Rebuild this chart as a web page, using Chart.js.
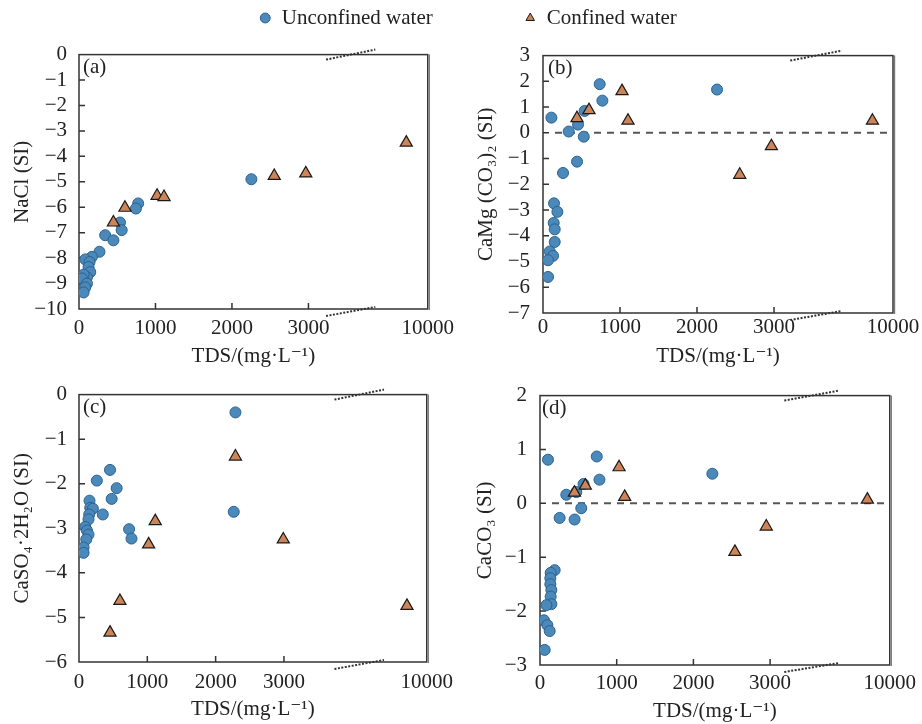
<!DOCTYPE html>
<html><head><meta charset="utf-8">
<script src="https://cdn.jsdelivr.net/npm/chart.js@4.4.0/dist/chart.umd.min.js"></script>
<style>
html,body{margin:0;padding:0;background:#fff;}
body{width:922px;height:724px;position:relative;overflow:hidden;}
canvas{position:absolute;}
</style></head><body>
<canvas id="leg" width="922" height="60" style="left:0;top:0"></canvas>
<canvas id="ca" width="461" height="340" style="left:0;top:30px"></canvas>
<canvas id="cb" width="461" height="340" style="left:461px;top:30px"></canvas>
<canvas id="cc" width="461" height="354" style="left:0;top:370px"></canvas>
<canvas id="cd" width="461" height="354" style="left:461px;top:370px"></canvas>
<script>
// ---------- data (TDS in mg/L, SI values) ----------
const legendLabels = ['Unconfined water', 'Confined water'];
const xTickLabels = ['0', '1000', '2000', '3000', '10000'];
const xTickValues = [0, 1000, 2000, 3000, 10000];

// (a) NaCl
const aUx = [774, 744, 536, 558, 342, 450, 268, 169, 82, 138, 125, 147, 104, 60, 39, 104, 82, 60, 2254];
const aUy = [-5.85, -6.05, -6.6, -6.9, -7.1, -7.3, -7.75, -7.95, -8.05, -8.15, -8.35, -8.55, -8.75, -8.65, -8.8, -9.0, -9.15, -9.35, -4.9];
const aCx = [450, 601, 1021, 1112, 2553, 2965, 8740];
const aCy = [-6.6, -6.02, -5.55, -5.6, -4.77, -4.67, -3.46];

// (b) CaMg(CO3)2
const bUx = [736, 771, 109, 541, 455, 334, 529, 442, 260, 143, 187, 139, 152, 152, 87, 130, 65, 65, 2260];
const bUy = [1.89, 1.25, 0.59, 0.85, 0.32, 0.05, -0.15, -1.12, -1.56, -2.74, -3.07, -3.5, -3.75, -4.24, -4.61, -4.78, -4.95, -5.6, 1.68];
const bCx = [441, 597, 1026, 1104, 2555, 2966, 8790];
const bCy = [0.57, 0.88, 1.62, 0.47, -1.63, -0.52, 0.47];

// (c) CaSO4·2H2O
const cUx = [454, 261, 551, 478, 154, 164, 203, 348, 149, 139, 91, 116, 139, 106, 733, 768, 67, 67, 2290, 2265];
const cUy = [-1.69, -1.93, -2.1, -2.34, -2.38, -2.54, -2.56, -2.69, -2.69, -2.8, -2.97, -3.05, -3.14, -3.25, -3.02, -3.23, -3.43, -3.55, -0.4, -2.63];
const cCx = [454, 599, 1019, 1116, 2290, 2990, 9030];
const cCy = [-5.34, -4.63, -3.36, -2.84, -1.39, -3.25, -4.74];

// (d) CaCO3
const dUx = [104, 740, 775, 568, 343, 473, 538, 256, 451, 191, 139, 135, 135, 148, 139, 148, 83, 52, 96, 126, 61, 2247];
const dUy = [0.81, 0.87, 0.44, 0.36, 0.16, 0.21, -0.09, -0.27, -0.3, -1.24, -1.29, -1.39, -1.5, -1.61, -1.73, -1.87, -1.89, -2.17, -2.26, -2.37, -2.72, 0.55];
const dCx = [449, 591, 1031, 1104, 2541, 2950, 8690];
const dCy = [0.2, 0.33, 0.67, 0.12, -0.9, -0.43, 0.07];

// ---------- styling ----------
const SERIF = "'Liberation Serif','Times New Roman','DejaVu Serif',serif";
const BLUE = '#4a89ba', BLUE_EDGE = '#2b628f';
const ORANGE = '#cd8458', ORANGE_EDGE = '#1a1a1a';
const TXT = '#222';
const BREAK_START = 3000;

function toAxis(v, xMax) {
  return v <= BREAK_START ? v : BREAK_START + (v - BREAK_START) * (xMax - BREAK_START) / (10000 - BREAK_START);
}
function fmtMinus(v) { return v < 0 ? '\u2212' + Math.abs(v) : String(v); }

const deco = {
  id: 'deco',
  beforeDatasetsDraw(chart, args, o) {
    const {ctx, chartArea: ca, scales: {x, y}} = chart;
    ctx.save();
    // frame
    ctx.strokeStyle = '#333';
    ctx.lineWidth = 1.5;
    ctx.strokeRect(ca.left, ca.top, ca.right - ca.left, ca.bottom - ca.top);
    ctx.strokeStyle = '#777';
    ctx.lineWidth = 1.2;
    ctx.beginPath(); ctx.moveTo(ca.right + 1.6, ca.top); ctx.lineTo(ca.right + 1.6, ca.bottom + 1); ctx.stroke();
    // inward ticks
    ctx.strokeStyle = '#333';
    ctx.lineWidth = 1.5;
    ctx.beginPath();
    y.ticks.forEach(t => {
      if (t.value === y.min || t.value === y.max) return;
      const py = y.getPixelForValue(t.value);
      ctx.moveTo(ca.left, py); ctx.lineTo(ca.left + 6, py);
    });
    x.ticks.forEach(t => {
      if (t.value === x.min || t.value === x.max) return;
      const px = x.getPixelForValue(t.value);
      ctx.moveTo(px, ca.bottom); ctx.lineTo(px, ca.bottom - 6);
    });
    ctx.stroke();
    // zero line
    if (o.zero) {
      const py = y.getPixelForValue(0);
      ctx.strokeStyle = '#555';
      ctx.lineWidth = 2;
      ctx.setLineDash([7, 6]);
      ctx.beginPath(); ctx.moveTo(ca.left + 12, py); ctx.lineTo(ca.right, py); ctx.stroke();
      ctx.setLineDash([]);
    }
    ctx.restore();
  },
  afterDatasetsDraw(chart, args, o) {
    const {ctx, chartArea: ca, scales: {x}} = chart;
    ctx.save();
    // panel label
    ctx.fillStyle = TXT;
    ctx.font = '21px ' + SERIF;
    ctx.textBaseline = 'middle';
    ctx.textAlign = 'left';
    ctx.fillText(o.label, ca.left + o.labelDx, ca.top + 13);
    // axis break marks
    const x1 = x.getPixelForValue(o.brk[0]), x2 = x.getPixelForValue(o.brk[1]);
    ctx.strokeStyle = '#333';
    ctx.lineWidth = 2;
    ctx.setLineDash([2, 1.5]);
    ctx.beginPath();
    ctx.moveTo(x1, ca.top + 5); ctx.lineTo(x2, ca.top - 5);
    ctx.moveTo(x1, ca.bottom + 7); ctx.lineTo(x2, ca.bottom - 2);
    ctx.stroke();
    ctx.restore();
  }
};

function makePanel(p) {
  const xMax = p.xMax;
  const uData = p.ux.map((v, i) => ({x: toAxis(v, xMax), y: p.uy[i]}));
  const cData = p.cx.map((v, i) => ({x: toAxis(v, xMax), y: p.cy[i]}));
  return new Chart(document.getElementById(p.id), {
    type: 'scatter',
    data: {
      datasets: [
        {label: legendLabels[0], data: uData, order: 1, pointStyle: 'circle', pointRadius: 5.5,
         backgroundColor: BLUE, borderColor: BLUE_EDGE, borderWidth: 1},
        {label: legendLabels[1], data: cData, order: 0, pointStyle: 'triangle', pointRadius: 7,
         backgroundColor: ORANGE, borderColor: ORANGE_EDGE, borderWidth: 1.2}
      ]
    },
    options: {
      responsive: false, animation: false, events: [],
      layout: {padding: p.pad},
      scales: {
        x: {
          type: 'linear', min: 0, max: xMax,
          grid: {display: false, drawTicks: false}, border: {display: false},
          afterBuildTicks: s => { s.ticks = xTickValues.map(v => ({value: toAxis(v, xMax)})); },
          afterFit: s => { s.height = p.xHeight; },
          ticks: {autoSkip: false, maxRotation: 0, minRotation: 0, padding: p.xTickPad, color: TXT,
                  font: {family: SERIF, size: 21},
                  callback: (v, i) => xTickLabels[i]},
          title: {display: true, text: 'TDS/(mg\u00b7L\u207b\u00b9)', color: TXT,
                  font: {family: SERIF, size: 21}, padding: {top: 0, bottom: p.xTitlePad}}
        },
        y: {
          min: p.yMin, max: p.yMax,
          grid: {display: false, drawTicks: false}, border: {display: false},
          afterFit: s => { s.width = p.yWidth; },
          ticks: {stepSize: 1, autoSkip: false, padding: p.yTickPad, color: TXT, font: {family: SERIF, size: 21},
                  callback: v => fmtMinus(v)},
          title: {display: true, text: p.yTitle, color: TXT, font: {family: SERIF, size: 21},
                  padding: {top: p.yTitlePad, bottom: 0}}
        }
      },
      plugins: {
        legend: {display: false}, tooltip: {enabled: false},
        deco: {label: p.label, labelDx: p.labelDx, zero: p.zero, brk: p.brk}
      }
    },
    plugins: [deco]
  });
}

makePanel({id: 'ca', ux: aUx, uy: aUy, cx: aCx, cy: aCy, yMin: -10, yMax: 0, xMax: 4560,
  yTitle: 'NaCl (SI)', label: '(a)', labelDx: 4, zero: false, brk: [3230, 3874],
  pad: {left: 0, top: 12, right: 31, bottom: 0}, yWidth: 79, xHeight: 61,
  yTickPad: 12, xTickPad: 7, yTitlePad: 9.4, xTitlePad: 1.4});
makePanel({id: 'cb', ux: bUx, uy: bUy, cx: bCx, cy: bCy, yMin: -7, yMax: 3, xMax: 4545,
  yTitle: 'CaMg (CO\u2083)\u2082 (SI)', label: '(b)', labelDx: 5, zero: true, brk: [3210, 3880],
  pad: {left: 0, top: 13, right: 29, bottom: 0}, yWidth: 82, xHeight: 57,
  yTickPad: 13, xTickPad: 2, yTitlePad: 12.4, xTitlePad: 1.4});
makePanel({id: 'cc', ux: cUx, uy: cUy, cx: cCx, cy: cCy, yMin: -6, yMax: 0, xMax: 5090,
  yTitle: 'CaSO\u2084\u00b72H\u2082O (SI)', label: '(c)', labelDx: 4, zero: false, brk: [3739, 4464],
  pad: {left: 0, top: 23, right: 30, bottom: 0}, yWidth: 79, xHeight: 62,
  yTickPad: 12, xTickPad: 8, yTitlePad: 9.4, xTitlePad: 2.4});
makePanel({id: 'cd', ux: dUx, uy: dUy, cx: dCx, cy: dCy, yMin: -3, yMax: 2, xMax: 4560,
  yTitle: 'CaCO\u2083 (SI)', label: '(d)', labelDx: 2, zero: true, brk: [3185, 3896],
  pad: {left: 0, top: 25, right: 30, bottom: 0}, yWidth: 79, xHeight: 59,
  yTickPad: 13, xTickPad: 6, yTitlePad: 11.4, xTitlePad: 0.4});

// shared legend
new Chart(document.getElementById('leg'), {
  type: 'scatter',
  data: {datasets: [
    {label: legendLabels[0] + '\u2003\u2003\u2003\u2003', data: [], pointStyle: 'circle',
     backgroundColor: BLUE, borderColor: BLUE_EDGE, borderWidth: 1},
    {label: legendLabels[1], data: [], pointStyle: 'triangle',
     backgroundColor: ORANGE, borderColor: ORANGE_EDGE, borderWidth: 1}
  ]},
  options: {
    responsive: false, animation: false, events: [],
    layout: {padding: {left: 14, right: 0, top: 0, bottom: 0}},
    scales: {x: {display: false}, y: {display: false}},
    plugins: {
      tooltip: {enabled: false},
      legend: {display: true, position: 'top', align: 'center',
        labels: {usePointStyle: true, boxWidth: 12, boxHeight: 7, padding: 7.5, color: TXT,
                 font: {family: SERIF, size: 21}}}
    }
  }
});
</script>
</body></html>
